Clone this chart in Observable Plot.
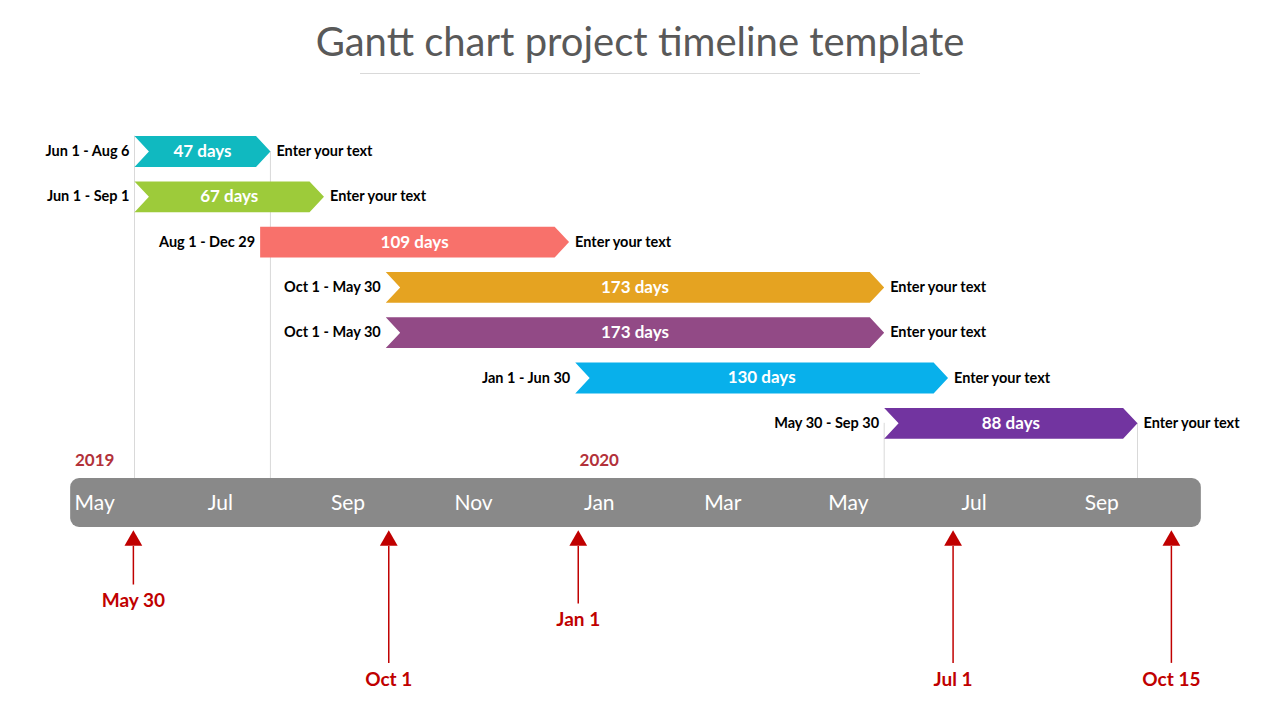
<!DOCTYPE html>
<html>
<head>
<meta charset="utf-8">
<script src="https://cdn.jsdelivr.net/npm/d3@7"></script>
<script src="https://cdn.jsdelivr.net/npm/@observablehq/plot@0.6"></script>
<style>
  html, body { margin: 0; padding: 0; background: #fff; width: 1280px; height: 720px; overflow: hidden; }
  #title { position: relative; height: 90px; font-family: Lato, "Open Sans", sans-serif; }
  #title .t { position: absolute; top: 16px; left: 0; width: 1280px; text-align: center; font-size: 40px; line-height: 50px; color: #595959; }
  #title .rule { position: absolute; top: 73px; left: 360px; width: 560px; height: 1px; background: #d9d9d9; }
  #chart svg { display: block; }
</style>
</head>
<body>
<div id="title"><div class="t">Gantt chart project timeline template</div><div class="rule"></div></div>
<div id="chart"></div>
<script>
// ---------- data ----------
const startDates = ["2019-06-01", "2019-06-01", "2019-08-01", "2019-10-01", "2019-10-01", "2020-01-01", "2020-05-30"];
const endDates   = ["2019-08-06", "2019-09-01", "2019-12-29", "2020-05-30", "2020-05-30", "2020-06-30", "2020-09-30"];
const rangeLabels = ["Jun 1 - Aug 6", "Jun 1 - Sep 1", "Aug 1 - Dec 29", "Oct 1 - May 30", "Oct 1 - May 30", "Jan 1 - Jun 30", "May 30 - Sep 30"];
const durationLabels = ["47 days", "67 days", "109 days", "173 days", "173 days", "130 days", "88 days"];
const noteLabels = ["Enter your text", "Enter your text", "Enter your text", "Enter your text", "Enter your text", "Enter your text", "Enter your text"];
const notched = [true, true, false, true, true, true, true];
const barColors = ["#10b9c0", "#9dcb3a", "#f8716b", "#e5a321", "#924a86", "#08b0eb", "#7234a0"];

const monthTicks = ["2019-05-01", "2019-07-01", "2019-09-01", "2019-11-01", "2020-01-01", "2020-03-01", "2020-05-01", "2020-07-01", "2020-09-01"];
const monthLabels = ["May", "Jul", "Sep", "Nov", "Jan", "Mar", "May", "Jul", "Sep"];
const yearTicks = ["2019-05-01", "2020-01-01"];
const yearLabels = ["2019", "2020"];
const timelineSpan = ["2019-05-01", "2020-10-31"];

const milestoneDates = ["2019-05-30", "2019-10-01", "2020-01-01", "2020-07-01", "2020-10-15"];
const milestoneLabels = ["May 30", "Oct 1", "Jan 1", "Jul 1", "Oct 15"];
const milestoneTier = [0, 2, 1, 2, 2];

// ---------- layout helpers (row units on y) ----------
const D = s => new Date(s);
const DAY = 864e5;
const TIP = 7 * DAY;       // chevron depth
const HALF = 0.34;         // half bar height in row units
const tlTop = 7.22, tlBottom = 8.30, tlMid = 7.77, yearRow = 6.82;
const triRow = 8.59, ruleTop = 8.72;
const tierLabelRow = [9.93, 10.35, 11.66];

const tasks = startDates.map((s, i) => ({
  i, start: D(s), end: D(endDates[i]), range: rangeLabels[i], dur: durationLabels[i],
  note: noteLabels[i], notch: notched[i], color: barColors[i]
}));

const poly = [];
for (const t of tasks) {
  const s = +t.start, e = +t.end, r = t.i;
  const pts = [
    [s, r - HALF], [e - TIP, r - HALF], [e, r], [e - TIP, r + HALF], [s, r + HALF]
  ];
  if (t.notch) pts.push([s + TIP, r]);
  pts.push([s, r - HALF]);
  for (const [x, y] of pts) poly.push({x: new Date(x), y, i: t.i, color: t.color});
}

const first = tasks[0], last = tasks[tasks.length - 1];
const guides = [
  {x: first.start, y1: first.i - HALF, y2: tlTop},
  {x: first.end, y1: first.i, y2: tlTop},
  {x: last.start, y1: last.i, y2: tlTop},
  {x: last.end, y1: last.i, y2: tlTop}
];

const months = monthTicks.map((m, k) => ({x: D(m), label: monthLabels[k]}));
const years = yearTicks.map((m, k) => ({x: D(m), label: yearLabels[k]}));
const miles = milestoneDates.map((m, k) => ({x: D(m), label: milestoneLabels[k], row: tierLabelRow[milestoneTier[k]]}));

const font = "Lato, 'Open Sans', sans-serif";

const chart = Plot.plot({
  width: 1280,
  height: 630,
  margin: 0,
  style: {fontFamily: font, background: "white"},
  x: {type: "utc", domain: [D("2019-06-01"), D("2020-09-30")], range: [134, 1137], axis: null},
  y: {type: "linear", domain: [0, 12], range: [61, 604.6], axis: null},
  color: {type: "identity"},
  marks: [
    Plot.ruleX(guides, {x: "x", y1: "y1", y2: "y2", stroke: "#d9d9d9", strokeWidth: 1}),
    Plot.line(poly, {x: "x", y: "y", z: "i", fill: "color", stroke: null, curve: "linear"}),
    Plot.text(tasks, {x: d => new Date((+d.start + +d.end) / 2), y: "i", text: "dur", fill: "white", fontWeight: "bold", fontSize: 17}),
    Plot.text(tasks, {x: "start", y: "i", text: "range", textAnchor: "end", dx: -5, fill: "black", fontWeight: "bold", fontSize: 14.5}),
    Plot.text(tasks, {x: "end", y: "i", text: "note", textAnchor: "start", dx: 6, fill: "black", fontWeight: "bold", fontSize: 14.5}),
    Plot.rect([{x1: D(timelineSpan[0]), x2: D(timelineSpan[1])}], {x1: "x1", x2: "x2", y1: tlTop, y2: tlBottom, fill: "#898989", rx: 9}),
    Plot.text(months, {x: "x", y: tlMid, text: "label", dx: 24, fill: "white", fontSize: 21}),
    Plot.text(years, {x: "x", y: yearRow, text: "label", dx: 24, fill: "#b2313a", fontWeight: "bold", fontSize: 17}),
    Plot.ruleX(miles, {x: "x", y1: ruleTop, y2: d => d.row - 0.36, dx: 3, stroke: "#c00000", strokeWidth: 1.5}),
    Plot.dot(miles, {x: "x", y: triRow, dx: 3, symbol: "triangle", r: 6.6, fill: "#c00000", stroke: null}),
    Plot.text(miles, {x: "x", y: "row", dx: 3, text: "label", fill: "#c00000", fontWeight: "bold", fontSize: 19})
  ]
});
document.getElementById("chart").appendChild(chart);
</script>
</body>
</html>
